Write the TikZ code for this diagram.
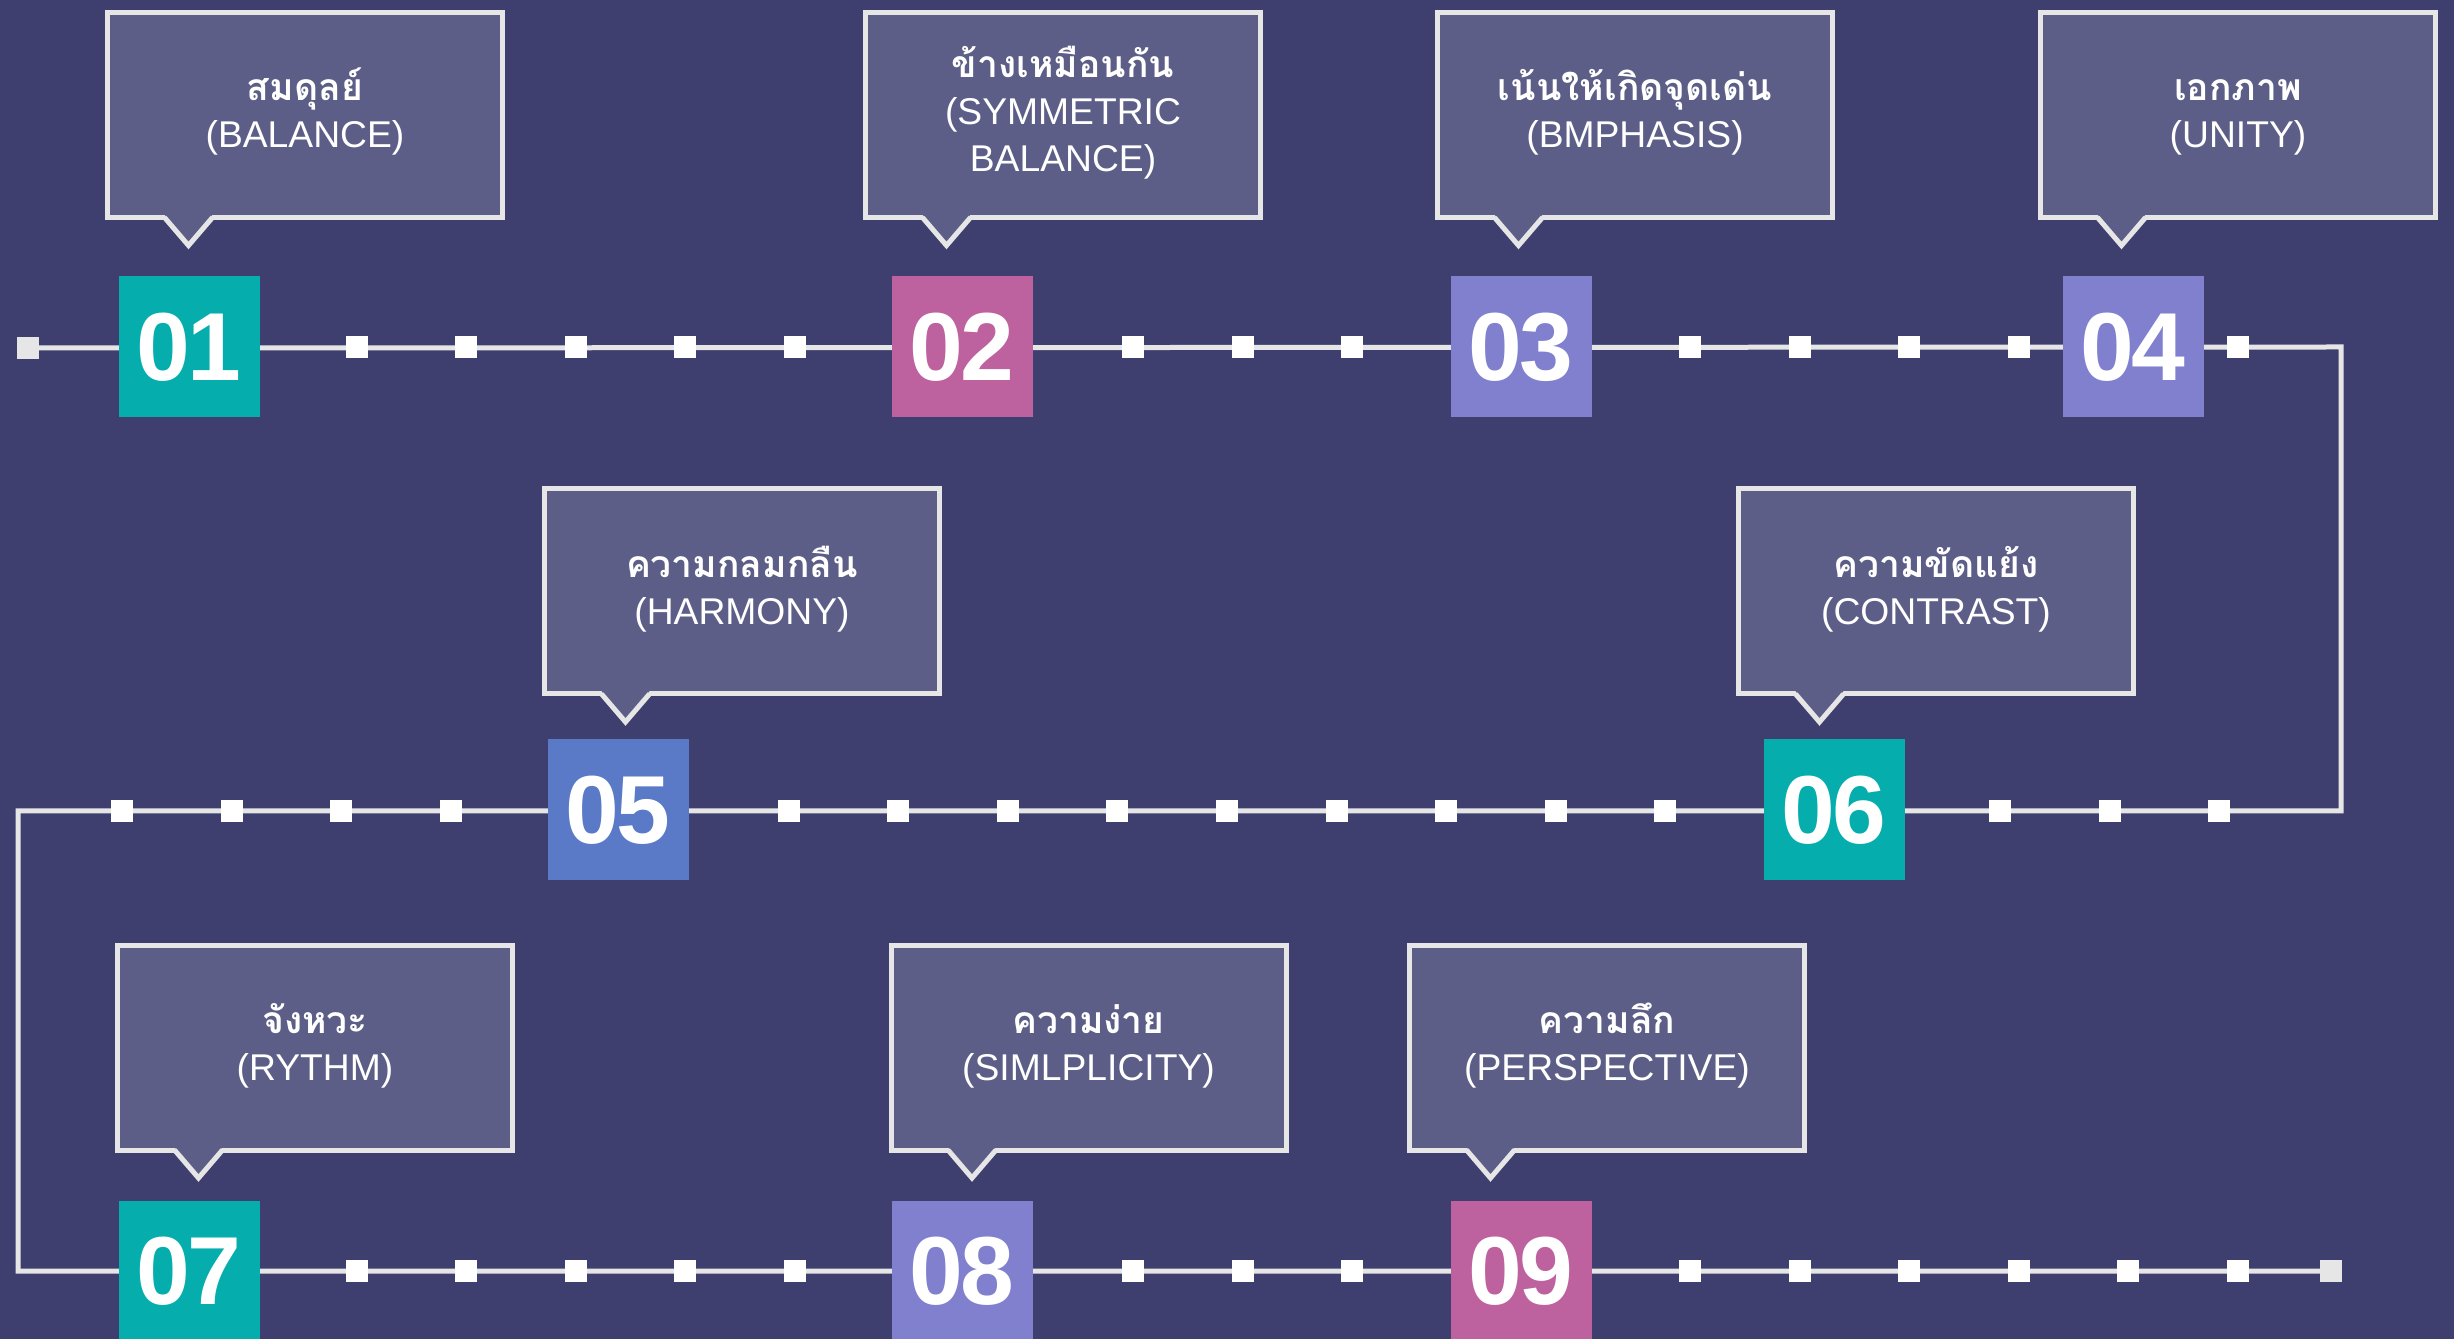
\documentclass[tikz,border=0pt]{standalone}
\usepackage{fontspec}
\setmainfont{Liberation Sans}
\newfontfamily\thaifont[Script=Thai]{Loma}
\newfontfamily\numfont[LetterSpace=-3]{Liberation Sans}
\definecolor{bgnavy}{HTML}{3E3F6E}
\definecolor{tipfill}{HTML}{5C5E87}
\definecolor{trackgrey}{HTML}{E6E6E6}
\definecolor{stepteal}{HTML}{05AEAC}
\definecolor{steppink}{HTML}{BD629E}
\definecolor{steplilac}{HTML}{8080CF}
\definecolor{stepblue}{HTML}{5A7AC8}
\tikzset{
  every node/.style={outer sep=0pt},
  trackline/.style={draw=trackgrey, line width=0.5mm},
  tipbox/.style={draw=trackgrey, fill=tipfill, line width=0.5mm,
    minimum width=39.5mm, minimum height=20.5mm, inner sep=0pt,
    align=center, text=white, font=\fontsize{10.6}{13.4}\selectfont},
  numbox/.style={minimum size=14.1mm, inner sep=0pt, text=white,
    font=\numfont\bfseries\fontsize{27.5}{27.5}\selectfont},
  dot/.style={fill=white, minimum size=2.2mm, inner sep=0pt},
  endmark/.style={fill=trackgrey, minimum size=2.2mm, inner sep=0pt},
}
\newcommand\thword[1]{{\thaifont\bfseries\strut #1}}

\begin{document}
\begin{tikzpicture}[x=0.1mm, y=-0.1mm]
  % page, 2454 x 1339 px
  \fill[bgnavy] (0,0) rectangle (2454,1339);
  \useasboundingbox (0,0) rectangle (2454,1339);

  % the track
  \node[endmark] (start) at (28,348) {};
  \node[endmark] (stop) at (2331,1271) {};
  \coordinate (turn0) at (2341,347);
  \coordinate (turn1) at (2341,811);
  \coordinate (turn2) at (18,811);
  \coordinate (turn3) at (18,1271);
  \draw[trackline] (start) -- (turn0) -- (turn1) -- (turn2) -- (turn3) -- (stop);

  \foreach \x [count=\i] in {357,466,576,685,795,1133,1243,1352,1690,1800,1909,2019,2238}
    \node[dot] (a\i) at (\x,347) {};
  \foreach \x [count=\i] in {122,232,341,451,789,898,1008,1117,1227,1337,1446,1556,1665,2000,2110,2219}
    \node[dot] (b\i) at (\x,811) {};
  \foreach \x [count=\i] in {357,466,576,685,795,1133,1243,1352,1690,1800,1909,2019,2128,2238}
    \node[dot] (c\i) at (\x,1271) {};

  % numbered steps
  \foreach \n/\x/\y/\col in {01/189/347/stepteal, 02/962/347/steppink,
      03/1521/347/steplilac, 04/2133/347/steplilac, 05/618/810/stepblue,
      06/1834/810/stepteal, 07/189/1271/stepteal, 08/962/1271/steplilac,
      09/1521/1271/steppink}
    \node[numbox, fill=\col] (n\n) at (\x,\y) {\n};

  % callouts
  \node[tipbox] (t1) at (305,115) {\thword{สมดุลย์}\\(BALANCE)\strut};
  \node[tipbox] (t2) at (1063,115) {\thword{ข้างเหมือนกัน}\\(SYMMETRIC\\BALANCE)\strut};
  \node[tipbox] (t3) at (1635,115) {\thword{เน้นให้เกิดจุดเด่น}\\(BMPHASIS)\strut};
  \node[tipbox] (t4) at (2238,115) {\thword{เอกภาพ}\\(UNITY)\strut};
  \node[tipbox] (t5) at (742,591.5) {\thword{ความกลมกลืน}\\(HARMONY)\strut};
  \node[tipbox] (t6) at (1936,591.5) {\thword{ความขัดแย้ง}\\(CONTRAST)\strut};
  \node[tipbox] (t7) at (315,1047.5) {\thword{จังหวะ}\\(RYTHM)\strut};
  \node[tipbox] (t8) at (1088.5,1047.5) {\thword{ความง่าย}\\(SIMLPLICITY)\strut};
  \node[tipbox] (t9) at (1607,1047.5) {\thword{ความลึก}\\(PERSPECTIVE)\strut};
  \foreach \t in {t1,t2,t3,t4,t5,t6,t7,t8,t9}{
    \fill[tipfill] ([xshift=5.7mm,yshift=0.3mm]\t.south west) -- ([xshift=8.1mm,yshift=-2.8mm]\t.south west)
      -- ([xshift=10.5mm,yshift=0.3mm]\t.south west) -- cycle;
    \draw[trackline] ([xshift=5.7mm]\t.south west) -- ++(2.4mm,-2.8mm) -- ++(2.4mm,2.8mm);
  }
\end{tikzpicture}
\end{document}
